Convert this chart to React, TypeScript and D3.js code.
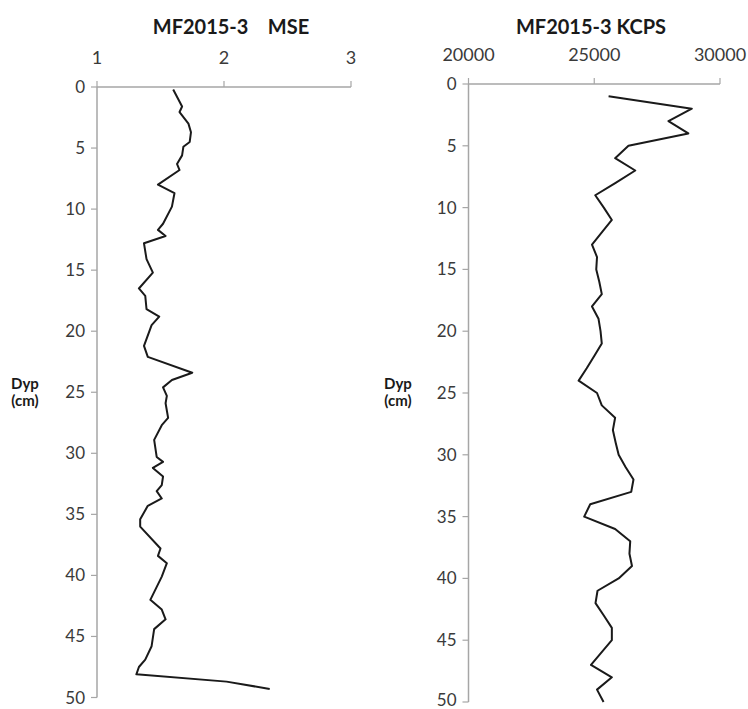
import React, { useRef, useEffect } from 'react';
import * as d3 from 'd3';

// MSE profile (depth cm, value)
const mseDepth = [0.2, 1.6, 2.05, 3.0, 3.7, 4.5, 4.9, 5.6, 6.3, 6.8, 8.0, 8.7, 9.8, 11.2, 11.7, 12.2, 12.8, 14.1, 15.2, 16.5, 17.1, 18.2, 18.8, 19.5, 21.2, 22.1, 23.4, 24.0, 24.6, 25.3, 25.9, 27.1, 27.7, 28.9, 30.3, 30.7, 31.2, 31.9, 32.6, 33.1, 33.7, 34.3, 35.4, 36.0, 37.8, 38.4, 39.0, 40.1, 42.0, 42.8, 43.6, 44.4, 45.8, 46.9, 47.5, 48.1, 48.7, 49.3];
const mseValues = [1.6, 1.67, 1.65, 1.72, 1.74, 1.73, 1.68, 1.67, 1.63, 1.65, 1.48, 1.61, 1.59, 1.52, 1.48, 1.54, 1.37, 1.39, 1.44, 1.33, 1.38, 1.39, 1.49, 1.43, 1.37, 1.4, 1.75, 1.59, 1.52, 1.55, 1.54, 1.56, 1.51, 1.45, 1.47, 1.52, 1.44, 1.52, 1.51, 1.47, 1.51, 1.4, 1.34, 1.34, 1.5, 1.48, 1.55, 1.51, 1.42, 1.51, 1.54, 1.45, 1.43, 1.38, 1.33, 1.31, 2.02, 2.36];

// KCPS profile (depth cm, value)
const kcpsDepth = [1, 2, 3, 4, 5, 6, 7, 8, 9, 10, 11, 12, 13, 14, 15, 16, 17, 18, 19, 20, 21, 22, 23, 24, 25, 26, 27, 28, 29, 30, 31, 32, 33, 34, 35, 36, 37, 38, 39, 40, 41, 42, 43, 44, 45, 46, 47, 48, 49, 50];
const kcpsValues = [25570, 28880, 27950, 28740, 26360, 25830, 26630, 25850, 25040, 25380, 25700, 25300, 24910, 25110, 25080, 25200, 25300, 24910, 25170, 25250, 25300, 25000, 24700, 24380, 25110, 25300, 25830, 25740, 25850, 25970, 26250, 26560, 26470, 24840, 24600, 25830, 26430, 26400, 26500, 25970, 25130, 25050, 25380, 25700, 25700, 25280, 24870, 25700, 25110, 25370];

const mseTicks = [1, 2, 3];
const kcpsTicks = [20000, 25000, 30000];
const depthTicks = [0, 5, 10, 15, 20, 25, 30, 35, 40, 45, 50];

const FONT = 'Lato, "Open Sans", sans-serif';

function drawPanel(svg, o) {
  const x = d3.scaleLinear().domain(o.xDomain).range([o.left, o.right]);
  const y = d3.scaleLinear().domain([0, 50]).range([o.top, o.bottom]);
  const g = svg.append('g');

  // top axis
  g.append('line')
    .attr('x1', o.left).attr('x2', o.right)
    .attr('y1', o.top).attr('y2', o.top)
    .attr('stroke', '#a6a6a6').attr('stroke-width', 1.5);
  g.selectAll('.xt').data(o.xTicks).join('line')
    .attr('x1', d => x(d)).attr('x2', d => x(d))
    .attr('y1', o.top - 6).attr('y2', o.top)
    .attr('stroke', '#a6a6a6').attr('stroke-width', 1.2);
  g.selectAll('.xl').data(o.xTicks).join('text')
    .attr('x', d => x(d)).attr('y', o.top - 23)
    .attr('text-anchor', 'middle')
    .attr('fill', '#3a3a3a')
    .style('font-family', FONT).style('font-size', '18px')
    .text(d => String(d));

  // left axis
  g.append('line')
    .attr('x1', o.left).attr('x2', o.left)
    .attr('y1', o.top).attr('y2', o.bottom)
    .attr('stroke', '#a6a6a6').attr('stroke-width', 1.5);
  g.selectAll('.yt').data(depthTicks).join('line')
    .attr('x1', o.left - 6).attr('x2', o.left)
    .attr('y1', d => y(d)).attr('y2', d => y(d))
    .attr('stroke', '#a6a6a6').attr('stroke-width', 1.2);
  g.selectAll('.yl').data(depthTicks).join('text')
    .attr('x', o.left - 12).attr('y', d => Math.min(y(d) + 6, 706))
    .attr('text-anchor', 'end')
    .attr('fill', '#3a3a3a')
    .style('font-family', FONT).style('font-size', '17px')
    .text(d => String(d));

  // data line
  const pts = o.depth.map((d, i) => [o.values[i], d]);
  const line = d3.line().x(p => x(p[0])).y(p => y(p[1]));
  g.append('path')
    .attr('d', line(pts))
    .attr('fill', 'none')
    .attr('stroke', '#1a1a1a')
    .attr('stroke-width', 2)
    .attr('stroke-linejoin', 'round');

  // title
  g.append('text')
    .attr('x', o.titleX).attr('y', 34)
    .attr('text-anchor', 'middle')
    .attr('fill', '#1a1a1a')
    .style('font-family', FONT).style('font-size', '20px').style('font-weight', 'bold')
    .style('white-space', 'pre')
    .text(o.title);

  // y label
  const yl = g.append('text')
    .attr('text-anchor', 'middle')
    .attr('fill', '#1a1a1a')
    .style('font-family', FONT).style('font-size', '15px').style('font-weight', 'bold');
  yl.append('tspan').attr('x', o.yLabelX).attr('y', 389).text('Dyp');
  yl.append('tspan').attr('x', o.yLabelX).attr('y', 406).text('(cm)');
}

export default function App() {
  const svgRef = useRef(null);

  useEffect(() => {
    const svg = d3.select(svgRef.current);
    svg.selectAll('*').remove();
    svg.append('rect').attr('width', 748).attr('height', 709).attr('fill', 'white');

    drawPanel(svg, {
      xDomain: [1, 3], left: 97, right: 351, top: 87, bottom: 697.5,
      xTicks: mseTicks, depth: mseDepth, values: mseValues,
      title: 'MF2015-3    MSE', titleX: 231, yLabelX: 25,
    });
    drawPanel(svg, {
      xDomain: [20000, 30000], left: 468.5, right: 720, top: 84, bottom: 702,
      xTicks: kcpsTicks, depth: kcpsDepth, values: kcpsValues,
      title: 'MF2015-3 KCPS', titleX: 591, yLabelX: 398,
    });
  }, []);

  return (
    <svg ref={svgRef} width={748} height={709}
      style={{ position: 'absolute', left: 0, top: 0, display: 'block' }} />
  );
}
